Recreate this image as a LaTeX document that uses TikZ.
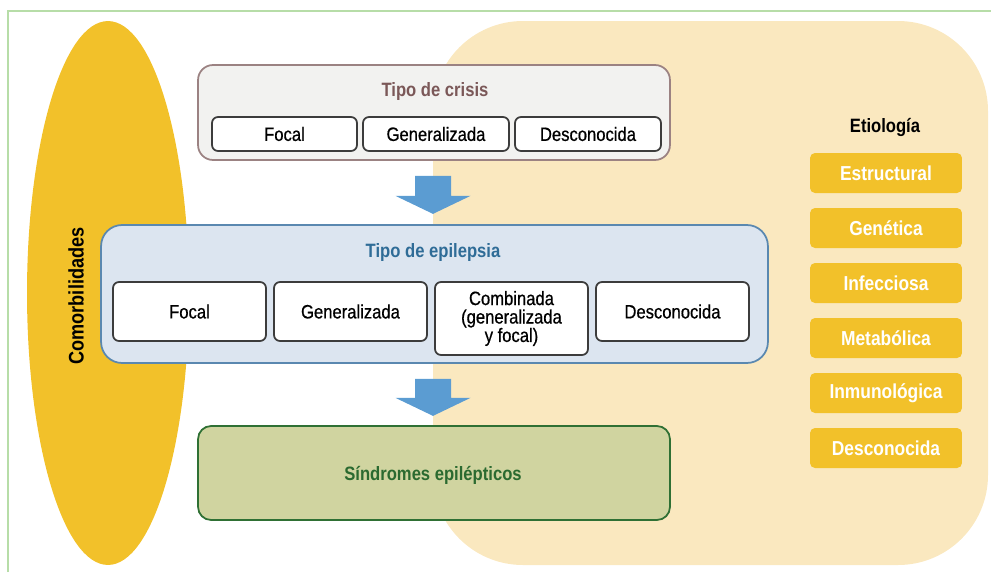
\documentclass[tikz,border=0pt]{standalone}
\usepackage{fontspec}
\setmainfont{Liberation Sans}[FakeStretch=0.86]
\usetikzlibrary{shapes.geometric}
\definecolor{framegreen}{HTML}{B7DDA8}
\definecolor{beige}{HTML}{FAE8BF}
\definecolor{etioyellow}{HTML}{F2C12A}
\definecolor{boxgray}{HTML}{3C3C3C}
\definecolor{crisisfill}{HTML}{F2F2F0}
\definecolor{crisisline}{HTML}{9B8282}
\definecolor{crisistext}{HTML}{7B5858}
\definecolor{epifill}{HTML}{DCE5F0}
\definecolor{epiline}{HTML}{5A88B0}
\definecolor{epitext}{HTML}{2F6C97}
\definecolor{sindfill}{HTML}{D0D4A0}
\definecolor{sindline}{HTML}{2F7034}
\definecolor{sindtext}{HTML}{2B6A30}
\definecolor{arrowblue}{HTML}{5B9CD2}
\begin{document}
\begin{tikzpicture}[x=0.02cm,y=-0.02cm,
        subbox/.style={draw=boxgray, line width=1pt, fill=white, rounded corners=0.12cm,
            inner sep=0pt, font=\fontsize{11}{10.5}\selectfont\addfontfeature{FakeBold=0.6}},
        etiobox/.style={fill=etioyellow, rounded corners=0.1cm, minimum width=3.04cm,
            minimum height=0.8cm, text=white, font=\bfseries\fontsize{11.5}{12}\selectfont},
        titletext/.style={font=\bfseries\fontsize{11}{12}\selectfont}]
    \useasboundingbox (0,0) rectangle (991,572);
    \draw [framegreen, line width=0.6pt] (8,572) -- (8,11) -- (991,11);
    % fondos
    \fill [beige, rounded corners=1.8cm] (433,21) rectangle (988,565);
    \node [ellipse, fill=etioyellow, inner sep=0pt, minimum width=3.24cm, minimum height=10.88cm] (comorb) at (108,293) {};
    \node [rotate=90, font=\bfseries\fontsize{12}{12}\selectfont] (comorblabel) at (76,296) {Comorbilidades};
    % tipo de crisis
    \node [draw=crisisline, fill=crisisfill, line width=1pt, rounded corners=0.3cm, minimum width=9.44cm, minimum height=1.9cm] (crisis) at (434,112.5) {};
    \node [titletext, text=crisistext] (crisistitle) at (435,91) {Tipo de crisis};
    \node [subbox, minimum width=2.9cm, minimum height=0.68cm] (cfocal) at (284.5,134) {Focal};
    \node [subbox, minimum width=2.92cm, minimum height=0.68cm] (cgen) at (436,134) {Generalizada};
    \node [subbox, minimum width=2.92cm, minimum height=0.68cm] (cdesc) at (588,134) {Desconocida};
    % tipo de epilepsia
    \node [draw=epiline, fill=epifill, line width=1pt, rounded corners=0.42cm, minimum width=13.34cm, minimum height=2.76cm] (epi) at (434.5,294) {};
    \node [titletext, text=epitext] (epititle) at (433,252) {Tipo de epilepsia};
    \node [subbox, minimum width=3.06cm, minimum height=1.18cm] (efocal) at (189.5,311.5) {Focal};
    \node [subbox, minimum width=3.06cm, minimum height=1.18cm] (egen) at (350.5,311.5) {Generalizada};
    \node [subbox, minimum width=3.06cm, minimum height=1.46cm, align=center] (ecomb) at (511.5,318.5) {Combinada\\(generalizada\\y focal)};
    \node [subbox, minimum width=3.06cm, minimum height=1.18cm] (edesc) at (672.5,311.5) {Desconocida};
    % sindromes
    \node [draw=sindline, fill=sindfill, line width=1pt, rounded corners=0.26cm, minimum width=9.44cm, minimum height=1.88cm] (sind) at (434,473) {};
    \node [titletext, text=sindtext] (sindtitle) at (433,475) {Síndromes epilépticos};
    % flechas
    \fill [arrowblue] (crisis.south) ++(-19,15) -- ++(36,0) -- ++(0,20) -- ++(19.5,0) -- ++(-37.5,18) -- ++(-37.5,-18) -- ++(19.5,0) -- cycle;
    \fill [arrowblue] (epi.south) ++(-19.5,15) -- ++(36,0) -- ++(0,19) -- ++(19.5,0) -- ++(-37.5,18) -- ++(-37.5,-18) -- ++(19.5,0) -- cycle;
    % etiologia
    \node [titletext] (etiotitle) at (885,127) {Etiología};
    \foreach \name [count=\i] in {Estructural,Genética,Infecciosa,Metabólica,Inmunológica,Desconocida}
        \node [etiobox] (etio\i) at (886,118+55*\i) {\name};
\end{tikzpicture}
\end{document}
